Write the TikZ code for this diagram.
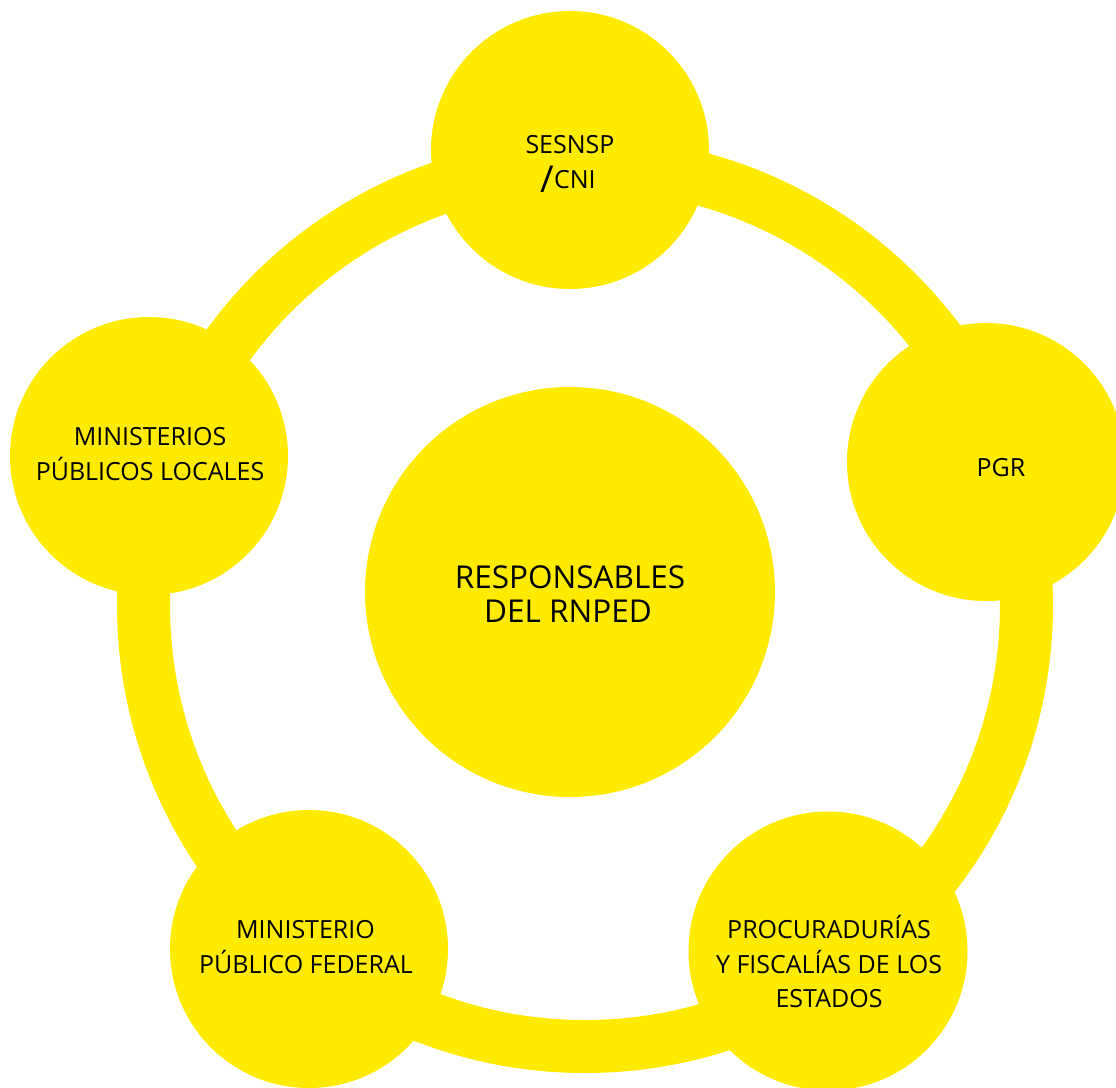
\documentclass[tikz,border=0pt]{standalone}
\usepackage{fontspec}
\setmainfont{Open Sans}
\definecolor{ryellow}{RGB}{255,235,0}
\begin{document}
\begin{tikzpicture}[x=1pt,y=-1pt,
  blob/.style={circle,fill=ryellow,inner sep=0pt,minimum size=#1},
  ringline/.style={draw=ryellow,line width=53pt},
  lbl/.style={anchor=base,inner sep=0pt,text=black,font=\fontsize{25}{30}\selectfont},
  biglbl/.style={anchor=base,inner sep=0pt,text=black,font=\fontsize{31.5}{36}\selectfont}]
\useasboundingbox (0,0) rectangle (1116,1087);
\clip (0,0) rectangle (1116,1087);
\coordinate (ringc) at (585,605);
\draw[ringline] (ringc) circle[radius=441.5];
\node[blob=278pt] (sesnsp) at (570,150) {};
\node[blob=278pt] (pgr) at (986,462) {};
\node[blob=278pt] (mpl) at (149,456) {};
\node[blob=278pt] (mpf) at (309,949) {};
\node[blob=279pt] (pfe) at (828,951) {};
\node[blob=410pt] (rnped) at (570,592) {};
% labels
\node[lbl] (t1a) at (570,153) {SESNSP};
\node[lbl] (t1b) at (568,188) {\raisebox{-4pt}{\fontsize{37}{37}\selectfont/}CNI};
\node[lbl] (t2) at (1001,476) {PGR};
\node[lbl] (t3a) at (150,445) {MINISTERIOS};
\node[lbl] (t3b) at (150,480) {PÚBLICOS LOCALES};
\node[lbl] (t4a) at (305.5,938) {MINISTERIO};
\node[lbl] (t4b) at (306,973) {PÚBLICO FEDERAL};
\node[lbl] (t5a) at (829,938) {PROCURADURÍAS};
\node[lbl] (t5b) at (829,973) {Y FISCALÍAS DE LOS};
\node[lbl] (t5c) at (829,1007) {ESTADOS};
\node[biglbl] (t6a) at (570,588) {RESPONSABLES};
\node[biglbl] (t6b) at (568,622) {DEL RNPED};
\end{tikzpicture}
\end{document}
